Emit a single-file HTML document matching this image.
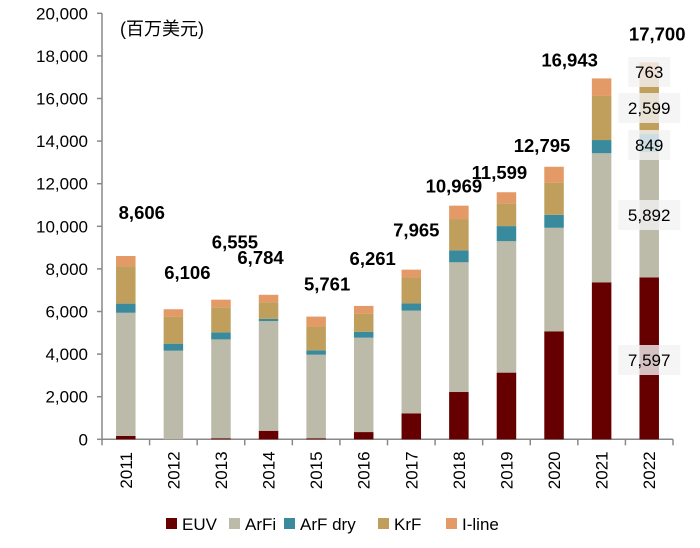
<!DOCTYPE html>
<html><head><meta charset="utf-8"><style>
body{margin:0;background:#fff;width:700px;height:543px;overflow:hidden;font-family:"Liberation Sans","Noto Sans CJK SC",sans-serif}
svg text{font-family:"Liberation Sans","Noto Sans CJK SC",sans-serif}
</style></head><body>
<svg id="chart" width="700" height="543"></svg>
<script>
const years=["2011","2012","2013","2014","2015","2016","2017","2018","2019","2020","2021","2022"];
const euv=[160,0,50,400,50,340,1220,2220,3130,5070,7370,7597];
const arfi=[5780,4160,4640,5150,3920,4430,4820,6090,6170,4860,6060,5892];
const arfdry=[430,330,330,110,210,280,340,560,710,610,620,849];
const krf=[1760,1270,1180,770,1120,850,1220,1470,1070,1510,2070,2599];
const iline=[476,346,355,354,461,361,365,629,519,745,823,763];
const totals=[8606,6106,6555,6784,5761,6261,7965,10969,11599,12795,16943,17700];
const totalLabels=["8,606","6,106","6,555","6,784","5,761","6,261","7,965","10,969","11,599","12,795","16,943","17,700"];
const yTicks=[0,2000,4000,6000,8000,10000,12000,14000,16000,18000,20000];
const yTickLabels=["0","2,000","4,000","6,000","8,000","10,000","12,000","14,000","16,000","18,000","20,000"];
const seriesNames=["EUV","ArFi","ArF dry","KrF","I-line"];
const lastLabels=["7,597","5,892","849","2,599","763"];
const colors=["#660000","#bcbaa8","#3a8a9e","#c09e5c","#e39a66"];
const ldx=[16,14,14,-8,11,9,5,-5,-7,-12,-32,8];
const ldy=[-44,-37,-58,-38,-33,-48,-40,-20,-20,-22,-19,-29];
const svg=document.getElementById('chart');
const NS="http://www.w3.org/2000/svg";
const x0=102,axisW=571,y0=439.3,yTop=13.3;
const y=v=>y0-(v/20000)*(y0-yTop);
const step=axisW/years.length;
const xc=i=>x0+step*(i+0.5);
const bw=19.5;
function el(t,a){const e=document.createElementNS(NS,t);for(const k in a)e.setAttribute(k,a[k]);svg.appendChild(e);return e;}
const yAxis=el('line',{x1:x0,y1:yTop,x2:x0,y2:y0,stroke:'#888','stroke-width':1.5});


yTicks.forEach((v,i)=>{
 const t=el('line',{x1:x0-5,y1:y(v),x2:x0,y2:y(v),stroke:'#888','stroke-width':1.5});
 
 
 const l=el('text',{x:x0-14,y:y(v)+6,'text-anchor':'end','font-size':17,fill:'#000'});
 l.textContent=yTickLabels[i];
 
 
});
const xAxis=el('line',{x1:x0,y1:y0,x2:x0+axisW,y2:y0,stroke:'#888','stroke-width':1.5});


for(let i=0;i<=years.length;i++){
 const t=el('line',{x1:x0+step*i,y1:y0,x2:x0+step*i,y2:y0+6,stroke:'#888','stroke-width':1.5});
 
 
}
const unit=el('text',{x:120,y:35,'font-size':18,fill:'#000'});
unit.textContent="(百万美元)";


const series=[euv,arfi,arfdry,krf,iline];
years.forEach((yr,i)=>{
 let acc=0;
 series.forEach((s,k)=>{
  const r=el('rect',{x:xc(i)-bw/2,y:y(acc+s[i]),width:bw,height:Math.max(0,y(acc)-y(acc+s[i])),fill:colors[k]});
  
  
  acc+=s[i];
 });
 const tl=el('text',{x:xc(i)+ldx[i],y:y(totals[i])+ldy[i]+7,'text-anchor':'middle','font-size':18.5,'font-weight':'bold',fill:'#000'});
 tl.textContent=totalLabels[i];
 
 
 const xl=el('text',{x:0,y:0,'text-anchor':'middle','font-size':17,fill:'#000',transform:`translate(${xc(i)+6},${y0+31}) rotate(-90)`});
 xl.textContent=yr;
 
 
});
const li=years.length-1;
const segY=[360,215,145,108,72];
series.forEach((s,k)=>{
 const cy=segY[k];
 const w=lastLabels[k].length*10+12;
 const bg=el('rect',{x:xc(li)-w/2,y:cy-15,width:w,height:30,fill:'rgba(242,242,242,0.8)'});
 
 
 const t=el('text',{x:xc(li),y:cy+6,'text-anchor':'middle','font-size':17,fill:'#000'});
 t.textContent=lastLabels[k];
 
 
});
const legX=[166,229,284,378,446];
seriesNames.forEach((n,k)=>{
 const s=el('rect',{x:legX[k],y:518,width:11,height:11,fill:colors[k]});
 
 
 const t=el('text',{x:legX[k]+16,y:530,'font-size':17,fill:'#000'});
 t.textContent=n;
 
 
});
</script>
</body></html>
